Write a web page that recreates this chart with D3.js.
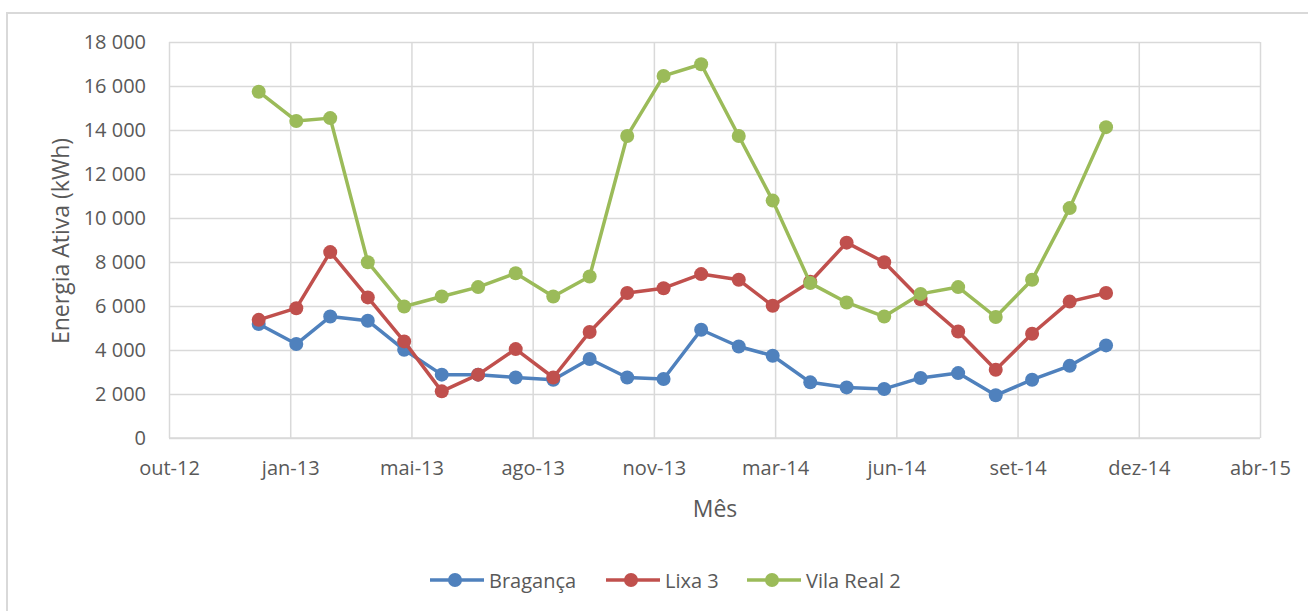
<!DOCTYPE html>
<html>
<head>
<meta charset="utf-8">
<script src="https://cdn.jsdelivr.net/npm/d3@7"></script>
<style>
  html, body { margin: 0; padding: 0; background: #fff; }
  svg { display: block; }
  text { font-family: "Open Sans", sans-serif; fill: #595959; }
</style>
</head>
<body>
<svg id="chart" width="1308" height="611"></svg>
<script>
// ---- Data ----
const months = ["2012-12-31","2013-01-31","2013-02-28","2013-03-31","2013-04-30","2013-05-31",
  "2013-06-30","2013-07-31","2013-08-31","2013-09-30","2013-10-31","2013-11-30",
  "2013-12-31","2014-01-31","2014-02-28","2014-03-31","2014-04-30","2014-05-31",
  "2014-06-30","2014-07-31","2014-08-31","2014-09-30","2014-10-31","2014-11-30"];
const braganca = [5180,4270,5520,5330,4010,2880,2880,2750,2650,3590,2750,2680,
  4920,4160,3740,2530,2300,2230,2730,2950,1940,2650,3280,4210];
const lixa3 = [5370,5900,8450,6390,4390,2120,2880,4040,2750,4820,6590,6810,
  7450,7190,6010,7100,8880,7990,6310,4840,3100,4740,6200,6590];
const vilaReal2 = [15740,14410,14540,7990,5980,6430,6860,7490,6430,7340,13730,16460,
  16990,13730,10790,7040,6160,5520,6550,6860,5500,7190,10450,14130];
const seriesNames = ["Bragança","Lixa 3","Vila Real 2"];
const seriesColors = ["#4F81BD","#C0504D","#9BBB59"];
const xTickDates = ["2012-10-18","2013-01-26","2013-05-06","2013-08-14","2013-11-22",
  "2014-03-02","2014-06-10","2014-09-18","2014-12-27","2015-04-06"];
const xTickLabels = ["out-12","jan-13","mai-13","ago-13","nov-13","mar-14","jun-14","set-14","dez-14","abr-15"];
const yTicks = [0,2000,4000,6000,8000,10000,12000,14000,16000,18000];
const yTitle = "Energia Ativa (kWh)";
const xTitle = "Mês";

// ---- Setup ----
const svg = d3.select("#chart");
const parse = d3.utcParse("%Y-%m-%d");
const plot = { left: 169, right: 1260, top: 42, bottom: 438 };

const x = d3.scaleUtc()
  .domain([parse(xTickDates[0]), parse(xTickDates[xTickDates.length - 1])])
  .range([plot.left, plot.right]);
const y = d3.scaleLinear().domain([0, 18000]).range([plot.bottom, plot.top]);

const locale = d3.formatLocale({ decimal: ",", thousands: "\u00a0", grouping: [3], currency: ["", "€"] });
const fmt = locale.format(",.0f");

// outer chart border
svg.append("rect").attr("x", 7).attr("y", 13).attr("width", 1320).attr("height", 620)
  .attr("fill", "none").attr("stroke", "#D9D9D9").attr("stroke-width", 2);

// horizontal gridlines + y axis labels
const yAxis = d3.axisLeft(y).tickValues(yTicks).tickSize(-(plot.right - plot.left)).tickFormat(fmt).tickPadding(23);
const gy = svg.append("g").attr("transform", `translate(${plot.left},0)`).call(yAxis);
gy.select(".domain").remove();
gy.selectAll(".tick line").attr("stroke", "#D9D9D9").attr("stroke-width", 1.5);
gy.selectAll(".tick text").attr("font-size", 20).attr("fill", "#595959")
  .attr("font-family", "Open Sans, sans-serif");

// vertical gridlines + x axis labels
const tickDates = xTickDates.map(parse);
const xAxis = d3.axisBottom(x).tickValues(tickDates).tickSize(-(plot.bottom - plot.top))
  .tickFormat((d, i) => xTickLabels[i]).tickPadding(23);
const gx = svg.append("g").attr("transform", `translate(0,${plot.bottom})`).call(xAxis);
gx.select(".domain").remove();
gx.selectAll(".tick line").attr("stroke", "#D9D9D9").attr("stroke-width", 1.5);
gx.selectAll(".tick text").attr("font-size", 20).attr("fill", "#595959")
  .attr("font-family", "Open Sans, sans-serif");

// axis line at bottom
svg.append("line").attr("x1", plot.left).attr("x2", plot.right)
  .attr("y1", plot.bottom).attr("y2", plot.bottom)
  .attr("stroke", "#D9D9D9").attr("stroke-width", 1.5);

// axis titles
svg.append("text").attr("transform", `translate(60,241) rotate(-90)`)
  .attr("text-anchor", "middle").attr("dominant-baseline", "central")
  .attr("font-size", 23).text(yTitle);
svg.append("text").attr("x", 715).attr("y", 508)
  .attr("text-anchor", "middle").attr("dominant-baseline", "central")
  .attr("font-size", 23).text(xTitle);

// series
const allSeries = [braganca, lixa3, vilaReal2];
const line = d3.line().x(d => x(d.date)).y(d => y(d.value));
allSeries.forEach((vals, si) => {
  const data = vals.map((v, i) => ({ date: parse(months[i]), value: v }));
  const g = svg.append("g");
  g.append("path").datum(data).attr("d", line).attr("fill", "none")
    .attr("stroke", seriesColors[si]).attr("stroke-width", 3.5)
    .attr("stroke-linejoin", "round");
  g.selectAll("circle").data(data).join("circle")
    .attr("cx", d => x(d.date)).attr("cy", d => y(d.value)).attr("r", 7)
    .attr("fill", seriesColors[si]);
});

// legend
const legendX = [430, 606, 747];
const legendY = 580;
const lg = svg.append("g");
seriesNames.forEach((name, i) => {
  const lx = legendX[i];
  lg.append("line").attr("x1", lx).attr("x2", lx + 54).attr("y1", legendY).attr("y2", legendY)
    .attr("stroke", seriesColors[i]).attr("stroke-width", 3.5);
  lg.append("circle").attr("cx", lx + 25).attr("cy", legendY).attr("r", 7).attr("fill", seriesColors[i]);
  lg.append("text").attr("x", lx + 59).attr("y", legendY).attr("dominant-baseline", "central")
    .attr("font-size", 20).text(name);
});
</script>
</body>
</html>
